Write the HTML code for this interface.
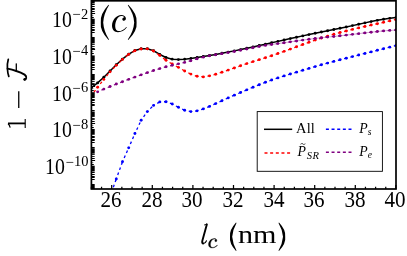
<!DOCTYPE html>
<html><head><meta charset="utf-8"><title>chart</title><style>
html,body{margin:0;padding:0;background:#fff}
#c{will-change:transform;position:relative;width:407px;height:256px;overflow:hidden;background:#fff;font-family:"Liberation Serif",serif;color:#000}
.t{position:absolute;white-space:nowrap;line-height:1}
.xl{font-size:22.1px;transform:translateX(-50%) scaleX(0.955);top:189.2px}
.yl{font-size:21.3px;transform:translate(-100%,-50%)}
.yl sup{font-size:14.5px;position:relative;top:-8px;vertical-align:baseline;margin-left:1.5px;letter-spacing:0.5px}
sub{vertical-align:baseline;position:relative;font-style:italic}

</style></head><body><div id="c">
<svg width="407" height="256" viewBox="0 0 407 256" style="position:absolute;left:0;top:0">
<rect x="0" y="0" width="407" height="256" fill="#fff"/>
<clipPath id="cp"><rect x="91.4" y="0.8" width="304.6" height="188.2"/></clipPath>
<g clip-path="url(#cp)" fill="none" stroke-linecap="round">
<path d="M91.40,87.55 L97.62,82.90 L103.83,77.18 L110.05,70.95 L116.27,64.77 L122.48,59.10 L128.70,54.18 L134.91,50.54 L141.13,48.73 L147.35,48.70 L153.56,50.75 L159.78,54.47 L166.00,57.51 L172.21,59.16 L178.43,59.60 L184.64,59.27 L190.86,58.47 L197.08,57.48 L203.29,56.47 L209.51,55.48 L215.73,54.43 L221.94,53.30 L228.16,52.11 L234.38,50.87 L240.59,49.58 L246.81,48.26 L253.02,46.90 L259.24,45.53 L265.46,44.15 L271.67,42.75 L277.89,41.36 L284.11,39.97 L290.32,38.59 L296.54,37.23 L302.76,35.89 L308.97,34.59 L315.19,33.32 L321.40,32.06 L327.62,30.81 L333.84,29.56 L340.05,28.28 L346.27,26.97 L352.49,25.62 L358.70,24.25 L364.92,22.89 L371.13,21.58 L377.35,20.36 L383.57,19.26 L389.78,18.33 L396.00,17.60" stroke="#000" stroke-width="1.5" stroke-linejoin="round"/>
<circle cx="91.40" cy="87.55" r="1.45" fill="#000" stroke="none"/>
<circle cx="97.62" cy="82.90" r="1.45" fill="#000" stroke="none"/>
<circle cx="103.83" cy="77.18" r="1.45" fill="#000" stroke="none"/>
<circle cx="110.05" cy="70.95" r="1.45" fill="#000" stroke="none"/>
<circle cx="116.27" cy="64.77" r="1.45" fill="#000" stroke="none"/>
<circle cx="122.48" cy="59.10" r="1.45" fill="#000" stroke="none"/>
<circle cx="128.70" cy="54.18" r="1.45" fill="#000" stroke="none"/>
<circle cx="134.91" cy="50.54" r="1.45" fill="#000" stroke="none"/>
<circle cx="141.13" cy="48.73" r="1.45" fill="#000" stroke="none"/>
<circle cx="147.35" cy="48.70" r="1.45" fill="#000" stroke="none"/>
<circle cx="153.56" cy="50.75" r="1.45" fill="#000" stroke="none"/>
<circle cx="159.78" cy="54.47" r="1.45" fill="#000" stroke="none"/>
<circle cx="166.00" cy="57.51" r="1.45" fill="#000" stroke="none"/>
<circle cx="172.21" cy="59.16" r="1.45" fill="#000" stroke="none"/>
<circle cx="178.43" cy="59.60" r="1.45" fill="#000" stroke="none"/>
<circle cx="184.64" cy="59.27" r="1.45" fill="#000" stroke="none"/>
<circle cx="190.86" cy="58.47" r="1.45" fill="#000" stroke="none"/>
<circle cx="197.08" cy="57.48" r="1.45" fill="#000" stroke="none"/>
<circle cx="203.29" cy="56.47" r="1.45" fill="#000" stroke="none"/>
<circle cx="209.51" cy="55.48" r="1.45" fill="#000" stroke="none"/>
<circle cx="215.73" cy="54.43" r="1.45" fill="#000" stroke="none"/>
<circle cx="221.94" cy="53.30" r="1.45" fill="#000" stroke="none"/>
<circle cx="228.16" cy="52.11" r="1.45" fill="#000" stroke="none"/>
<circle cx="234.38" cy="50.87" r="1.45" fill="#000" stroke="none"/>
<circle cx="240.59" cy="49.58" r="1.45" fill="#000" stroke="none"/>
<circle cx="246.81" cy="48.26" r="1.45" fill="#000" stroke="none"/>
<circle cx="253.02" cy="46.90" r="1.45" fill="#000" stroke="none"/>
<circle cx="259.24" cy="45.53" r="1.45" fill="#000" stroke="none"/>
<circle cx="265.46" cy="44.15" r="1.45" fill="#000" stroke="none"/>
<circle cx="271.67" cy="42.75" r="1.45" fill="#000" stroke="none"/>
<circle cx="277.89" cy="41.36" r="1.45" fill="#000" stroke="none"/>
<circle cx="284.11" cy="39.97" r="1.45" fill="#000" stroke="none"/>
<circle cx="290.32" cy="38.59" r="1.45" fill="#000" stroke="none"/>
<circle cx="296.54" cy="37.23" r="1.45" fill="#000" stroke="none"/>
<circle cx="302.76" cy="35.89" r="1.45" fill="#000" stroke="none"/>
<circle cx="308.97" cy="34.59" r="1.45" fill="#000" stroke="none"/>
<circle cx="315.19" cy="33.32" r="1.45" fill="#000" stroke="none"/>
<circle cx="321.40" cy="32.06" r="1.45" fill="#000" stroke="none"/>
<circle cx="327.62" cy="30.81" r="1.45" fill="#000" stroke="none"/>
<circle cx="333.84" cy="29.56" r="1.45" fill="#000" stroke="none"/>
<circle cx="340.05" cy="28.28" r="1.45" fill="#000" stroke="none"/>
<circle cx="346.27" cy="26.97" r="1.45" fill="#000" stroke="none"/>
<circle cx="352.49" cy="25.62" r="1.45" fill="#000" stroke="none"/>
<circle cx="358.70" cy="24.25" r="1.45" fill="#000" stroke="none"/>
<circle cx="364.92" cy="22.89" r="1.45" fill="#000" stroke="none"/>
<circle cx="371.13" cy="21.58" r="1.45" fill="#000" stroke="none"/>
<circle cx="377.35" cy="20.36" r="1.45" fill="#000" stroke="none"/>
<circle cx="383.57" cy="19.26" r="1.45" fill="#000" stroke="none"/>
<circle cx="389.78" cy="18.33" r="1.45" fill="#000" stroke="none"/>
<circle cx="396.00" cy="17.60" r="1.45" fill="#000" stroke="none"/>
<path d="M91.40,95.50 L92.18,94.46 M93.91,92.14 L95.47,90.05 M97.21,87.73 L97.62,87.18 M97.62,87.18 L98.43,86.17 M100.24,83.90 L101.86,81.87 M103.67,79.60 L103.83,79.40 M103.83,79.40 L104.66,78.40 M106.50,76.16 L108.16,74.15 M110.00,71.91 L110.05,71.86 M110.05,71.86 L110.95,70.92 M112.95,68.82 L114.74,66.94 M116.27,65.34 L117.20,64.44 M119.30,62.43 L121.18,60.63 M122.48,59.39 L123.49,58.57 M125.74,56.74 L127.76,55.10 M128.70,54.34 L129.82,53.69 M132.33,52.23 L134.58,50.93 M134.91,50.74 L136.16,50.38 M138.95,49.57 L141.13,48.94 M141.13,48.94 L142.43,48.93 M145.33,48.90 L147.35,48.87 M147.35,48.87 L148.58,49.29 M151.32,50.23 L153.56,51.00 M153.56,51.00 L154.62,51.75 M156.98,53.43 L159.10,54.94 M159.78,55.42 L160.80,56.22 M163.08,58.01 L165.13,59.62 M166.00,60.30 L167.11,60.96 M169.60,62.45 L171.83,63.79 M172.21,64.01 L173.36,64.63 M175.91,66.00 L178.20,67.24 M178.43,67.36 L179.56,68.01 M182.07,69.46 L184.32,70.75 M184.64,70.94 L185.80,71.53 M188.38,72.85 L190.70,74.04 M190.86,74.12 L192.09,74.55 M194.82,75.52 L197.08,76.32 M197.08,76.32 L198.37,76.44 M201.26,76.70 L203.29,76.89 M203.29,76.89 L204.58,76.68 M207.44,76.21 L209.51,75.87 M209.51,75.87 L210.77,75.54 M213.56,74.78 L215.73,74.19 M215.73,74.19 L216.97,73.80 M219.73,72.93 L221.94,72.23 M221.94,72.23 L223.17,71.81 M225.92,70.88 L228.16,70.12 M228.16,70.12 L229.39,69.69 M232.12,68.72 L234.38,67.93 M234.38,67.93 L235.60,67.50 M238.34,66.53 L240.59,65.73 M240.59,65.73 L241.82,65.31 M244.56,64.37 L246.81,63.60 M246.81,63.60 L248.04,63.20 M250.80,62.30 L253.02,61.58 M253.02,61.58 L254.27,61.20 M257.04,60.34 L259.24,59.65 M259.24,59.65 L260.48,59.26 M263.25,58.40 L265.46,57.71 M265.46,57.71 L266.69,57.31 M269.45,56.41 L271.67,55.69 M271.67,55.69 L272.90,55.27 M275.65,54.33 L277.89,53.56 M277.89,53.56 L279.11,53.13 M281.85,52.16 L284.11,51.36 M284.11,51.36 L285.33,50.91 M288.05,49.92 L290.32,49.10 M290.32,49.10 L291.54,48.65 M294.27,47.65 L296.54,46.81 M296.54,46.81 L297.76,46.37 M300.48,45.37 L302.76,44.54 M302.76,44.54 L303.98,44.10 M306.71,43.11 L308.97,42.29 M308.97,42.29 L310.20,41.86 M312.94,40.90 L315.19,40.12 M315.19,40.12 L316.42,39.70 M319.17,38.79 L321.40,38.04 M321.40,38.04 L322.64,37.66 M325.41,36.79 L327.62,36.10 M327.62,36.10 L328.87,35.74 M331.65,34.92 L333.84,34.28 M333.84,34.28 L335.09,33.93 M337.89,33.16 L340.05,32.56 M340.05,32.56 L341.31,32.23 M344.12,31.50 L346.27,30.94 M346.27,30.94 L347.53,30.62 M350.34,29.92 L352.49,29.39 M352.49,29.39 L353.75,29.09 M356.57,28.41 L358.70,27.90 M358.70,27.90 L359.97,27.61 M362.79,26.96 L364.92,26.47 M364.92,26.47 L366.19,26.18 M369.02,25.54 L371.13,25.06 M371.13,25.06 L372.40,24.78 M375.23,24.15 L377.35,23.68 M377.35,23.68 L378.62,23.40 M381.45,22.77 L383.57,22.30 M383.57,22.30 L384.84,22.02 M387.67,21.39 L389.78,20.91 M389.78,20.91 L391.05,20.62 M393.88,19.98 L396.00,19.50" stroke="#f00" stroke-width="1.3" stroke-linecap="butt" fill="none"/>
<circle cx="91.40" cy="95.50" r="1.45" fill="#f00" stroke="none"/>
<circle cx="97.62" cy="87.18" r="1.45" fill="#f00" stroke="none"/>
<circle cx="103.83" cy="79.40" r="1.45" fill="#f00" stroke="none"/>
<circle cx="110.05" cy="71.86" r="1.45" fill="#f00" stroke="none"/>
<circle cx="116.27" cy="65.34" r="1.45" fill="#f00" stroke="none"/>
<circle cx="122.48" cy="59.39" r="1.45" fill="#f00" stroke="none"/>
<circle cx="128.70" cy="54.34" r="1.45" fill="#f00" stroke="none"/>
<circle cx="134.91" cy="50.74" r="1.45" fill="#f00" stroke="none"/>
<circle cx="141.13" cy="48.94" r="1.45" fill="#f00" stroke="none"/>
<circle cx="147.35" cy="48.87" r="1.45" fill="#f00" stroke="none"/>
<circle cx="153.56" cy="51.00" r="1.45" fill="#f00" stroke="none"/>
<circle cx="159.78" cy="55.42" r="1.45" fill="#f00" stroke="none"/>
<circle cx="166.00" cy="60.30" r="1.45" fill="#f00" stroke="none"/>
<circle cx="172.21" cy="64.01" r="1.45" fill="#f00" stroke="none"/>
<circle cx="178.43" cy="67.36" r="1.45" fill="#f00" stroke="none"/>
<circle cx="184.64" cy="70.94" r="1.45" fill="#f00" stroke="none"/>
<circle cx="190.86" cy="74.12" r="1.45" fill="#f00" stroke="none"/>
<circle cx="197.08" cy="76.32" r="1.45" fill="#f00" stroke="none"/>
<circle cx="203.29" cy="76.89" r="1.45" fill="#f00" stroke="none"/>
<circle cx="209.51" cy="75.87" r="1.45" fill="#f00" stroke="none"/>
<circle cx="215.73" cy="74.19" r="1.45" fill="#f00" stroke="none"/>
<circle cx="221.94" cy="72.23" r="1.45" fill="#f00" stroke="none"/>
<circle cx="228.16" cy="70.12" r="1.45" fill="#f00" stroke="none"/>
<circle cx="234.38" cy="67.93" r="1.45" fill="#f00" stroke="none"/>
<circle cx="240.59" cy="65.73" r="1.45" fill="#f00" stroke="none"/>
<circle cx="246.81" cy="63.60" r="1.45" fill="#f00" stroke="none"/>
<circle cx="253.02" cy="61.58" r="1.45" fill="#f00" stroke="none"/>
<circle cx="259.24" cy="59.65" r="1.45" fill="#f00" stroke="none"/>
<circle cx="265.46" cy="57.71" r="1.45" fill="#f00" stroke="none"/>
<circle cx="271.67" cy="55.69" r="1.45" fill="#f00" stroke="none"/>
<circle cx="277.89" cy="53.56" r="1.45" fill="#f00" stroke="none"/>
<circle cx="284.11" cy="51.36" r="1.45" fill="#f00" stroke="none"/>
<circle cx="290.32" cy="49.10" r="1.45" fill="#f00" stroke="none"/>
<circle cx="296.54" cy="46.81" r="1.45" fill="#f00" stroke="none"/>
<circle cx="302.76" cy="44.54" r="1.45" fill="#f00" stroke="none"/>
<circle cx="308.97" cy="42.29" r="1.45" fill="#f00" stroke="none"/>
<circle cx="315.19" cy="40.12" r="1.45" fill="#f00" stroke="none"/>
<circle cx="321.40" cy="38.04" r="1.45" fill="#f00" stroke="none"/>
<circle cx="327.62" cy="36.10" r="1.45" fill="#f00" stroke="none"/>
<circle cx="333.84" cy="34.28" r="1.45" fill="#f00" stroke="none"/>
<circle cx="340.05" cy="32.56" r="1.45" fill="#f00" stroke="none"/>
<circle cx="346.27" cy="30.94" r="1.45" fill="#f00" stroke="none"/>
<circle cx="352.49" cy="29.39" r="1.45" fill="#f00" stroke="none"/>
<circle cx="358.70" cy="27.90" r="1.45" fill="#f00" stroke="none"/>
<circle cx="364.92" cy="26.47" r="1.45" fill="#f00" stroke="none"/>
<circle cx="371.13" cy="25.06" r="1.45" fill="#f00" stroke="none"/>
<circle cx="377.35" cy="23.68" r="1.45" fill="#f00" stroke="none"/>
<circle cx="383.57" cy="22.30" r="1.45" fill="#f00" stroke="none"/>
<circle cx="389.78" cy="20.91" r="1.45" fill="#f00" stroke="none"/>
<circle cx="396.00" cy="19.50" r="1.45" fill="#f00" stroke="none"/>
<path d="M253.02,47.71 L259.24,46.43 L265.46,45.38 L271.67,44.48 L277.89,43.62 L284.11,42.75 L290.32,41.86 L296.54,40.96 L302.76,40.09 L308.97,39.26 L315.19,38.48 L321.40,37.76 L327.62,37.09 L333.84,36.45 L340.05,35.79 L346.27,35.10 L352.49,34.37 L358.70,33.63 L364.92,32.90 L371.13,32.19 L377.35,31.52 L383.57,30.92 L389.78,30.41 L396.00,30.00" stroke="#800080" stroke-opacity="0.4" stroke-width="0.9" stroke-linecap="butt"/>
<path d="M97.62,91.84 L98.81,91.32 M101.47,90.16 L103.83,89.12 M103.83,89.12 L105.03,88.62 M107.71,87.51 L110.05,86.54 M110.05,86.54 L111.26,86.06 M113.95,84.99 L116.27,84.07 M116.27,84.07 L117.48,83.61 M120.19,82.57 L122.48,81.69 M122.48,81.69 L123.70,81.24 M126.42,80.22 L128.70,79.37 M128.70,79.37 L129.92,78.92 M132.64,77.93 L134.91,77.09 M134.91,77.09 L136.14,76.65 M138.86,75.66 L141.13,74.84 M141.13,74.84 L142.36,74.41 M145.09,73.44 L147.35,72.65 M147.35,72.65 L148.58,72.23 M151.33,71.30 L153.56,70.55 M153.56,70.55 L154.80,70.16 M157.57,69.28 L159.78,68.59 M159.78,68.59 L161.03,68.23 M163.82,67.44 L166.00,66.82 M166.00,66.82 L167.26,66.51 M170.07,65.81 L172.21,65.28 M172.21,65.28 L173.48,64.99 M176.31,64.34 L178.43,63.86 M178.43,63.86 L179.69,63.56 M182.52,62.89 L184.64,62.38 M184.64,62.38 L185.90,62.04 M188.70,61.27 L190.86,60.68 M190.86,60.68 L192.11,60.31 M194.89,59.48 L197.08,58.82 M197.08,58.82 L198.33,58.49 M201.14,57.74 L203.29,57.16 M203.29,57.16 L204.56,56.89 M207.40,56.27 L209.51,55.82 M209.51,55.82 L210.79,55.58 M213.64,55.06 L215.73,54.68 M215.73,54.68 L217.01,54.46 M219.87,53.99 L221.94,53.64 M221.94,53.64 L223.22,53.43 M226.08,52.94 L228.16,52.60 M228.16,52.60 L229.44,52.37 M232.29,51.86 L234.38,51.49 M234.38,51.49 L235.65,51.25 M238.50,50.71 L240.59,50.32 M240.59,50.32 L241.87,50.06 M244.71,49.48 L246.81,49.05 M246.81,49.05 L248.08,48.78 M250.91,48.17 L253.02,47.71 M253.02,47.71 L254.30,47.45 M257.14,46.86 L259.24,46.43 M259.24,46.43 L260.52,46.21 M263.38,45.73 L265.46,45.38 M265.46,45.38 L266.74,45.19 M269.61,44.77 L271.67,44.48 M271.67,44.48 L272.96,44.30 M275.83,43.90 L277.89,43.62 M277.89,43.62 L279.18,43.44 M282.05,43.04 L284.11,42.75 M284.11,42.75 L285.39,42.56 M288.26,42.15 L290.32,41.86 M290.32,41.86 L291.61,41.67 M294.48,41.26 L296.54,40.96 M296.54,40.96 L297.83,40.78 M300.70,40.38 L302.76,40.09 M302.76,40.09 L304.04,39.91 M306.92,39.53 L308.97,39.26 M308.97,39.26 L310.26,39.09 M313.14,38.73 L315.19,38.48 M315.19,38.48 L316.48,38.33 M319.36,37.99 L321.40,37.76 M321.40,37.76 L322.70,37.62 M325.58,37.31 L327.62,37.09 M327.62,37.09 L328.91,36.95 M331.80,36.66 L333.84,36.45 M333.84,36.45 L335.13,36.31 M338.01,36.01 L340.05,35.79 M340.05,35.79 L341.35,35.65 M344.23,35.33 L346.27,35.10 M346.27,35.10 L347.56,34.95 M350.44,34.61 L352.49,34.37 M352.49,34.37 L353.78,34.22 M356.66,33.88 L358.70,33.63 M358.70,33.63 L359.99,33.48 M362.87,33.14 L364.92,32.90 M364.92,32.90 L366.21,32.75 M369.09,32.42 L371.13,32.19 M371.13,32.19 L372.43,32.05 M375.31,31.74 L377.35,31.52 M377.35,31.52 L378.65,31.40 M381.53,31.12 L383.57,30.92 M383.57,30.92 L384.86,30.82 M387.75,30.58 L389.78,30.41 M389.78,30.41 L391.08,30.32 M393.97,30.13 L396.00,30.00" stroke="#800080" stroke-width="1.3" stroke-linecap="butt" fill="none"/>
<circle cx="97.62" cy="91.84" r="1.45" fill="#800080" stroke="none"/>
<circle cx="103.83" cy="89.12" r="1.45" fill="#800080" stroke="none"/>
<circle cx="110.05" cy="86.54" r="1.45" fill="#800080" stroke="none"/>
<circle cx="116.27" cy="84.07" r="1.45" fill="#800080" stroke="none"/>
<circle cx="122.48" cy="81.69" r="1.45" fill="#800080" stroke="none"/>
<circle cx="128.70" cy="79.37" r="1.45" fill="#800080" stroke="none"/>
<circle cx="134.91" cy="77.09" r="1.45" fill="#800080" stroke="none"/>
<circle cx="141.13" cy="74.84" r="1.45" fill="#800080" stroke="none"/>
<circle cx="147.35" cy="72.65" r="1.45" fill="#800080" stroke="none"/>
<circle cx="153.56" cy="70.55" r="1.45" fill="#800080" stroke="none"/>
<circle cx="159.78" cy="68.59" r="1.45" fill="#800080" stroke="none"/>
<circle cx="166.00" cy="66.82" r="1.45" fill="#800080" stroke="none"/>
<circle cx="172.21" cy="65.28" r="1.45" fill="#800080" stroke="none"/>
<circle cx="178.43" cy="63.86" r="1.45" fill="#800080" stroke="none"/>
<circle cx="184.64" cy="62.38" r="1.45" fill="#800080" stroke="none"/>
<circle cx="190.86" cy="60.68" r="1.45" fill="#800080" stroke="none"/>
<circle cx="197.08" cy="58.82" r="1.45" fill="#800080" stroke="none"/>
<circle cx="203.29" cy="57.16" r="1.45" fill="#800080" stroke="none"/>
<circle cx="209.51" cy="55.82" r="1.45" fill="#800080" stroke="none"/>
<circle cx="215.73" cy="54.68" r="1.45" fill="#800080" stroke="none"/>
<circle cx="221.94" cy="53.64" r="1.45" fill="#800080" stroke="none"/>
<circle cx="228.16" cy="52.60" r="1.45" fill="#800080" stroke="none"/>
<circle cx="234.38" cy="51.49" r="1.45" fill="#800080" stroke="none"/>
<circle cx="240.59" cy="50.32" r="1.45" fill="#800080" stroke="none"/>
<circle cx="246.81" cy="49.05" r="1.45" fill="#800080" stroke="none"/>
<circle cx="253.02" cy="47.71" r="1.45" fill="#800080" stroke="none"/>
<circle cx="259.24" cy="46.43" r="1.45" fill="#800080" stroke="none"/>
<circle cx="265.46" cy="45.38" r="1.45" fill="#800080" stroke="none"/>
<circle cx="271.67" cy="44.48" r="1.45" fill="#800080" stroke="none"/>
<circle cx="277.89" cy="43.62" r="1.45" fill="#800080" stroke="none"/>
<circle cx="284.11" cy="42.75" r="1.45" fill="#800080" stroke="none"/>
<circle cx="290.32" cy="41.86" r="1.45" fill="#800080" stroke="none"/>
<circle cx="296.54" cy="40.96" r="1.45" fill="#800080" stroke="none"/>
<circle cx="302.76" cy="40.09" r="1.45" fill="#800080" stroke="none"/>
<circle cx="308.97" cy="39.26" r="1.45" fill="#800080" stroke="none"/>
<circle cx="315.19" cy="38.48" r="1.45" fill="#800080" stroke="none"/>
<circle cx="321.40" cy="37.76" r="1.45" fill="#800080" stroke="none"/>
<circle cx="327.62" cy="37.09" r="1.45" fill="#800080" stroke="none"/>
<circle cx="333.84" cy="36.45" r="1.45" fill="#800080" stroke="none"/>
<circle cx="340.05" cy="35.79" r="1.45" fill="#800080" stroke="none"/>
<circle cx="346.27" cy="35.10" r="1.45" fill="#800080" stroke="none"/>
<circle cx="352.49" cy="34.37" r="1.45" fill="#800080" stroke="none"/>
<circle cx="358.70" cy="33.63" r="1.45" fill="#800080" stroke="none"/>
<circle cx="364.92" cy="32.90" r="1.45" fill="#800080" stroke="none"/>
<circle cx="371.13" cy="32.19" r="1.45" fill="#800080" stroke="none"/>
<circle cx="377.35" cy="31.52" r="1.45" fill="#800080" stroke="none"/>
<circle cx="383.57" cy="30.92" r="1.45" fill="#800080" stroke="none"/>
<circle cx="389.78" cy="30.41" r="1.45" fill="#800080" stroke="none"/>
<circle cx="396.00" cy="30.00" r="1.45" fill="#800080" stroke="none"/>
<path d="M110.05,196.32 L110.49,195.10 M111.47,192.37 L112.34,189.92 M113.32,187.19 L114.20,184.74 M115.18,182.01 L116.05,179.57 M116.27,178.97 L116.71,177.75 M117.69,175.03 L118.58,172.58 M119.57,169.85 L120.45,167.41 M121.44,164.68 L122.32,162.24 M122.48,161.79 L123.01,160.61 M124.19,157.96 L125.25,155.58 M126.43,152.94 L127.49,150.56 M128.68,147.91 L128.70,147.86 M128.70,147.86 L129.22,146.67 M130.37,144.01 L131.41,141.63 M132.57,138.97 L133.60,136.58 M134.76,133.92 L134.91,133.56 M134.91,133.56 L135.46,132.39 M136.69,129.76 L137.79,127.40 M139.02,124.78 L140.12,122.42 M141.13,120.27 L141.89,119.21 M143.58,116.85 L145.09,114.74 M146.78,112.38 L147.35,111.60 M147.35,111.60 L148.27,110.68 M150.32,108.63 L152.16,106.79 M153.56,105.38 L154.70,104.75 M157.23,103.33 L159.50,102.06 M159.78,101.91 L161.08,101.87 M163.98,101.77 L166.00,101.70 M166.00,101.70 L167.22,102.15 M169.94,103.16 L172.21,104.00 M172.21,104.00 L173.36,104.60 M175.93,105.96 L178.23,107.17 M178.43,107.28 L179.60,107.84 M182.22,109.09 L184.56,110.21 M184.64,110.25 L185.91,110.53 M188.75,111.15 L190.86,111.62 M190.86,111.62 L192.15,111.46 M195.03,111.09 L197.08,110.84 M197.08,110.84 L198.32,110.45 M201.09,109.60 L203.29,108.92 M203.29,108.92 L204.50,108.43 M207.19,107.35 L209.51,106.41 M209.51,106.41 L210.69,105.88 M213.33,104.68 L215.70,103.60 M215.73,103.59 L216.91,103.05 M219.53,101.82 L221.89,100.73 M221.94,100.70 L223.13,100.17 M225.77,98.97 L228.14,97.90 M228.16,97.89 L229.35,97.37 M232.00,96.20 L234.38,95.16 M234.38,95.16 L235.57,94.64 M238.23,93.49 L240.59,92.48 M240.59,92.48 L241.79,91.97 M244.46,90.83 L246.81,89.83 M246.81,89.83 L248.01,89.33 M250.68,88.21 L253.02,87.23 M253.02,87.23 L254.23,86.74 M256.91,85.64 L259.24,84.69 M259.24,84.69 L260.45,84.22 M263.15,83.17 L265.46,82.27 M265.46,82.27 L266.68,81.83 M269.40,80.83 L271.67,80.01 M271.67,80.01 L272.90,79.59 M275.65,78.66 L277.89,77.90 M277.89,77.90 L279.13,77.51 M281.89,76.63 L284.11,75.92 M284.11,75.92 L285.35,75.54 M288.12,74.69 L290.32,74.01 M290.32,74.01 L291.57,73.64 M294.34,72.80 L296.54,72.14 M296.54,72.14 L297.78,71.76 M300.56,70.92 L302.76,70.26 M302.76,70.26 L304.00,69.89 M306.78,69.06 L308.97,68.40 M308.97,68.40 L310.22,68.04 M313.00,67.22 L315.19,66.58 M315.19,66.58 L316.44,66.22 M319.23,65.43 L321.40,64.80 M321.40,64.80 L322.66,64.46 M325.45,63.69 L327.62,63.09 M327.62,63.09 L328.88,62.75 M331.68,62.00 L333.84,61.42 M333.84,61.42 L335.09,61.09 M337.90,60.35 L340.05,59.79 M340.05,59.79 L341.31,59.46 M344.12,58.74 L346.27,58.18 M346.27,58.18 L347.53,57.86 M350.34,57.14 L352.49,56.59 M352.49,56.59 L353.75,56.27 M356.56,55.56 L358.70,55.02 M358.70,55.02 L359.96,54.70 M362.77,53.99 L364.92,53.45 M364.92,53.45 L366.18,53.13 M368.99,52.42 L371.13,51.88 M371.13,51.88 L372.39,51.56 M375.21,50.85 L377.35,50.31 M377.35,50.31 L378.61,49.99 M381.42,49.27 L383.57,48.73 M383.57,48.73 L384.83,48.40 M387.63,47.68 L389.78,47.13 M389.78,47.13 L391.04,46.80 M393.85,46.06 L396.00,45.50" stroke="#00f" stroke-width="1.3" stroke-linecap="butt" fill="none"/>
<circle cx="110.05" cy="196.32" r="1.45" fill="#00f" stroke="none"/>
<circle cx="116.27" cy="178.97" r="1.45" fill="#00f" stroke="none"/>
<circle cx="122.48" cy="161.79" r="1.45" fill="#00f" stroke="none"/>
<circle cx="128.70" cy="147.86" r="1.45" fill="#00f" stroke="none"/>
<circle cx="134.91" cy="133.56" r="1.45" fill="#00f" stroke="none"/>
<circle cx="141.13" cy="120.27" r="1.45" fill="#00f" stroke="none"/>
<circle cx="147.35" cy="111.60" r="1.45" fill="#00f" stroke="none"/>
<circle cx="153.56" cy="105.38" r="1.45" fill="#00f" stroke="none"/>
<circle cx="159.78" cy="101.91" r="1.45" fill="#00f" stroke="none"/>
<circle cx="166.00" cy="101.70" r="1.45" fill="#00f" stroke="none"/>
<circle cx="172.21" cy="104.00" r="1.45" fill="#00f" stroke="none"/>
<circle cx="178.43" cy="107.28" r="1.45" fill="#00f" stroke="none"/>
<circle cx="184.64" cy="110.25" r="1.45" fill="#00f" stroke="none"/>
<circle cx="190.86" cy="111.62" r="1.45" fill="#00f" stroke="none"/>
<circle cx="197.08" cy="110.84" r="1.45" fill="#00f" stroke="none"/>
<circle cx="203.29" cy="108.92" r="1.45" fill="#00f" stroke="none"/>
<circle cx="209.51" cy="106.41" r="1.45" fill="#00f" stroke="none"/>
<circle cx="215.73" cy="103.59" r="1.45" fill="#00f" stroke="none"/>
<circle cx="221.94" cy="100.70" r="1.45" fill="#00f" stroke="none"/>
<circle cx="228.16" cy="97.89" r="1.45" fill="#00f" stroke="none"/>
<circle cx="234.38" cy="95.16" r="1.45" fill="#00f" stroke="none"/>
<circle cx="240.59" cy="92.48" r="1.45" fill="#00f" stroke="none"/>
<circle cx="246.81" cy="89.83" r="1.45" fill="#00f" stroke="none"/>
<circle cx="253.02" cy="87.23" r="1.45" fill="#00f" stroke="none"/>
<circle cx="259.24" cy="84.69" r="1.45" fill="#00f" stroke="none"/>
<circle cx="265.46" cy="82.27" r="1.45" fill="#00f" stroke="none"/>
<circle cx="271.67" cy="80.01" r="1.45" fill="#00f" stroke="none"/>
<circle cx="277.89" cy="77.90" r="1.45" fill="#00f" stroke="none"/>
<circle cx="284.11" cy="75.92" r="1.45" fill="#00f" stroke="none"/>
<circle cx="290.32" cy="74.01" r="1.45" fill="#00f" stroke="none"/>
<circle cx="296.54" cy="72.14" r="1.45" fill="#00f" stroke="none"/>
<circle cx="302.76" cy="70.26" r="1.45" fill="#00f" stroke="none"/>
<circle cx="308.97" cy="68.40" r="1.45" fill="#00f" stroke="none"/>
<circle cx="315.19" cy="66.58" r="1.45" fill="#00f" stroke="none"/>
<circle cx="321.40" cy="64.80" r="1.45" fill="#00f" stroke="none"/>
<circle cx="327.62" cy="63.09" r="1.45" fill="#00f" stroke="none"/>
<circle cx="333.84" cy="61.42" r="1.45" fill="#00f" stroke="none"/>
<circle cx="340.05" cy="59.79" r="1.45" fill="#00f" stroke="none"/>
<circle cx="346.27" cy="58.18" r="1.45" fill="#00f" stroke="none"/>
<circle cx="352.49" cy="56.59" r="1.45" fill="#00f" stroke="none"/>
<circle cx="358.70" cy="55.02" r="1.45" fill="#00f" stroke="none"/>
<circle cx="364.92" cy="53.45" r="1.45" fill="#00f" stroke="none"/>
<circle cx="371.13" cy="51.88" r="1.45" fill="#00f" stroke="none"/>
<circle cx="377.35" cy="50.31" r="1.45" fill="#00f" stroke="none"/>
<circle cx="383.57" cy="48.73" r="1.45" fill="#00f" stroke="none"/>
<circle cx="389.78" cy="47.13" r="1.45" fill="#00f" stroke="none"/>
<circle cx="396.00" cy="45.50" r="1.45" fill="#00f" stroke="none"/>
</g>
<rect x="91.4" y="0.8" width="304.6" height="188.2" fill="none" stroke="#000" stroke-width="1.7"/>
<path d="M91.40,189.0 v-2.2 M101.55,189.0 v-2.2 M111.70,189.0 v-3.9 M121.85,189.0 v-2.2 M132.00,189.0 v-2.2 M142.15,189.0 v-2.2 M152.30,189.0 v-3.9 M162.45,189.0 v-2.2 M172.60,189.0 v-2.2 M182.75,189.0 v-2.2 M192.90,189.0 v-3.9 M203.05,189.0 v-2.2 M213.20,189.0 v-2.2 M223.35,189.0 v-2.2 M233.50,189.0 v-3.9 M243.65,189.0 v-2.2 M253.80,189.0 v-2.2 M263.95,189.0 v-2.2 M274.10,189.0 v-3.9 M284.25,189.0 v-2.2 M294.40,189.0 v-2.2 M304.55,189.0 v-2.2 M314.70,189.0 v-3.9 M324.85,189.0 v-2.2 M335.00,189.0 v-2.2 M345.15,189.0 v-2.2 M355.30,189.0 v-3.9 M365.45,189.0 v-2.2 M375.60,189.0 v-2.2 M385.75,189.0 v-2.2 M395.90,189.0 v-3.9" stroke="#000" stroke-width="1.25" fill="none"/>
<path d="M91.4,4.50 h3.3" stroke="#000" stroke-opacity="1" stroke-width="1" fill="none"/>
<path d="M91.4,6.50 h3.3" stroke="#000" stroke-opacity="1" stroke-width="1" fill="none"/>
<path d="M91.4,8.50 h3.3" stroke="#000" stroke-opacity="1" stroke-width="1" fill="none"/>
<path d="M91.4,9.50 h3.3" stroke="#000" stroke-opacity="1" stroke-width="1" fill="none"/>
<path d="M91.4,11.50 h3.3" stroke="#000" stroke-opacity="1" stroke-width="1" fill="none"/>
<path d="M91.4,13.50 h3.7" stroke="#000" stroke-opacity="1" stroke-width="1" fill="none"/>
<path d="M91.4,15.50 h2.0" stroke="#000" stroke-opacity="0.45" stroke-width="1" fill="none"/>
<path d="M91.4,17.50 h2.4" stroke="#000" stroke-opacity="1" stroke-width="1" fill="none"/>
<path d="M91.4,25.50 h3.3" stroke="#000" stroke-opacity="1" stroke-width="1" fill="none"/>
<path d="M91.4,27.50 h3.3" stroke="#000" stroke-opacity="1" stroke-width="1" fill="none"/>
<path d="M91.4,29.50 h3.3" stroke="#000" stroke-opacity="1" stroke-width="1" fill="none"/>
<path d="M91.4,30.50 h3.3" stroke="#000" stroke-opacity="1" stroke-width="1" fill="none"/>
<path d="M91.4,32.50 h3.3" stroke="#000" stroke-opacity="1" stroke-width="1" fill="none"/>
<path d="M91.4,37.50 h3.3" stroke="#000" stroke-opacity="1" stroke-width="1" fill="none"/>
<path d="M91.4,44.50 h3.3" stroke="#000" stroke-opacity="0.85" stroke-width="1" fill="none"/>
<path d="M91.4,46.50 h3.3" stroke="#000" stroke-opacity="0.85" stroke-width="1" fill="none"/>
<path d="M91.4,48.50 h3.3" stroke="#000" stroke-opacity="1" stroke-width="1" fill="none"/>
<path d="M91.4,49.50 h3.7" stroke="#000" stroke-opacity="1" stroke-width="1" fill="none"/>
<path d="M91.4,51.50 h2.0" stroke="#000" stroke-opacity="0.45" stroke-width="1" fill="none"/>
<path d="M91.4,53.50 h2.4" stroke="#000" stroke-opacity="1" stroke-width="1" fill="none"/>
<path d="M91.4,62.50 h3.3" stroke="#000" stroke-opacity="1" stroke-width="1" fill="none"/>
<path d="M91.4,64.50 h3.3" stroke="#000" stroke-opacity="1" stroke-width="1" fill="none"/>
<path d="M91.4,65.50 h3.3" stroke="#000" stroke-opacity="1" stroke-width="1" fill="none"/>
<path d="M91.4,67.50 h3.3" stroke="#000" stroke-opacity="1" stroke-width="1" fill="none"/>
<path d="M91.4,69.50 h3.3" stroke="#000" stroke-opacity="1" stroke-width="1" fill="none"/>
<path d="M91.4,74.50 h3.3" stroke="#000" stroke-opacity="1" stroke-width="1" fill="none"/>
<path d="M91.4,81.50 h3.3" stroke="#000" stroke-opacity="0.85" stroke-width="1" fill="none"/>
<path d="M91.4,83.50 h3.3" stroke="#000" stroke-opacity="0.85" stroke-width="1" fill="none"/>
<path d="M91.4,84.50 h3.3" stroke="#000" stroke-opacity="1" stroke-width="1" fill="none"/>
<path d="M91.4,86.50 h3.7" stroke="#000" stroke-opacity="1" stroke-width="1" fill="none"/>
<path d="M91.4,88.50 h2.0" stroke="#000" stroke-opacity="0.45" stroke-width="1" fill="none"/>
<path d="M91.4,90.50 h2.4" stroke="#000" stroke-opacity="1" stroke-width="1" fill="none"/>
<path d="M91.4,99.50 h3.3" stroke="#000" stroke-opacity="1" stroke-width="1" fill="none"/>
<path d="M91.4,100.50 h3.3" stroke="#000" stroke-opacity="1" stroke-width="1" fill="none"/>
<path d="M91.4,102.50 h3.3" stroke="#000" stroke-opacity="1" stroke-width="1" fill="none"/>
<path d="M91.4,104.50 h3.3" stroke="#000" stroke-opacity="1" stroke-width="1" fill="none"/>
<path d="M91.4,105.50 h3.3" stroke="#000" stroke-opacity="1" stroke-width="1" fill="none"/>
<path d="M91.4,110.50 h3.3" stroke="#000" stroke-opacity="1" stroke-width="1" fill="none"/>
<path d="M91.4,118.50 h3.3" stroke="#000" stroke-opacity="0.85" stroke-width="1" fill="none"/>
<path d="M91.4,119.50 h3.3" stroke="#000" stroke-opacity="0.85" stroke-width="1" fill="none"/>
<path d="M91.4,121.50 h3.3" stroke="#000" stroke-opacity="1" stroke-width="1" fill="none"/>
<path d="M91.4,123.50 h3.7" stroke="#000" stroke-opacity="1" stroke-width="1" fill="none"/>
<path d="M91.4,125.50 h2.0" stroke="#000" stroke-opacity="0.45" stroke-width="1" fill="none"/>
<path d="M91.4,127.50 h2.4" stroke="#000" stroke-opacity="1" stroke-width="1" fill="none"/>
<path d="M91.4,136.50 h3.3" stroke="#000" stroke-opacity="1" stroke-width="1" fill="none"/>
<path d="M91.4,137.50 h3.3" stroke="#000" stroke-opacity="1" stroke-width="1" fill="none"/>
<path d="M91.4,139.50 h3.3" stroke="#000" stroke-opacity="1" stroke-width="1" fill="none"/>
<path d="M91.4,140.50 h3.3" stroke="#000" stroke-opacity="1" stroke-width="1" fill="none"/>
<path d="M91.4,142.50 h3.3" stroke="#000" stroke-opacity="1" stroke-width="1" fill="none"/>
<path d="M91.4,147.50 h3.3" stroke="#000" stroke-opacity="1" stroke-width="1" fill="none"/>
<path d="M91.4,154.50 h3.3" stroke="#000" stroke-opacity="0.85" stroke-width="1" fill="none"/>
<path d="M91.4,156.50 h3.3" stroke="#000" stroke-opacity="0.85" stroke-width="1" fill="none"/>
<path d="M91.4,158.50 h3.3" stroke="#000" stroke-opacity="1" stroke-width="1" fill="none"/>
<path d="M91.4,160.50 h3.7" stroke="#000" stroke-opacity="1" stroke-width="1" fill="none"/>
<path d="M91.4,162.50 h2.0" stroke="#000" stroke-opacity="0.45" stroke-width="1" fill="none"/>
<path d="M91.4,164.50 h2.4" stroke="#000" stroke-opacity="1" stroke-width="1" fill="none"/>
<path d="M91.4,172.50 h3.3" stroke="#000" stroke-opacity="1" stroke-width="1" fill="none"/>
<path d="M91.4,174.50 h3.3" stroke="#000" stroke-opacity="1" stroke-width="1" fill="none"/>
<path d="M91.4,176.50 h3.3" stroke="#000" stroke-opacity="1" stroke-width="1" fill="none"/>
<path d="M91.4,177.50 h3.3" stroke="#000" stroke-opacity="1" stroke-width="1" fill="none"/>
<path d="M91.4,179.50 h3.3" stroke="#000" stroke-opacity="1" stroke-width="1" fill="none"/>
<path d="M91.4,184.50 h3.3" stroke="#000" stroke-opacity="1" stroke-width="1" fill="none"/>
<rect x="91.4" y="0.80" width="3.3" height="2.70" fill="#000"/>
<rect x="91.4" y="18.70" width="3.3" height="5.80" fill="#000"/>
<rect x="91.4" y="38.00" width="3.3" height="5.40" fill="#000"/>
<rect x="91.4" y="55.45" width="3.3" height="5.80" fill="#000"/>
<rect x="91.4" y="74.75" width="3.3" height="5.40" fill="#000"/>
<rect x="91.4" y="92.20" width="3.3" height="5.80" fill="#000"/>
<rect x="91.4" y="111.50" width="3.3" height="5.40" fill="#000"/>
<rect x="91.4" y="128.95" width="3.3" height="5.80" fill="#000"/>
<rect x="91.4" y="148.25" width="3.3" height="5.40" fill="#000"/>
<rect x="91.4" y="165.70" width="3.3" height="5.80" fill="#000"/>
<rect x="91.4" y="185.00" width="3.3" height="4.00" fill="#000"/>
<rect x="257.2" y="111.6" width="125.2" height="59.7" fill="#fff" stroke="#000" stroke-width="0.9"/>
<path d="M264,129.3 h28.2" stroke="#000" stroke-width="1.5"/>
<path d="M325.9,129.3 h25.7" stroke="#00f" stroke-width="1.6" stroke-dasharray="3.0 2.65"/>
<path d="M264.5,153.0 h25.7" stroke="#f00" stroke-width="1.6" stroke-dasharray="3.0 2.65"/>
<path d="M325.9,152.3 h25.7" stroke="#800080" stroke-width="1.6" stroke-dasharray="3.0 2.65"/>
</svg>
<div class="t xl" style="left:111.1px">26</div>
<div class="t xl" style="left:151.7px">28</div>
<div class="t xl" style="left:192.3px">30</div>
<div class="t xl" style="left:232.9px">32</div>
<div class="t xl" style="left:273.5px">34</div>
<div class="t xl" style="left:314.1px">36</div>
<div class="t xl" style="left:354.7px">38</div>
<div class="t xl" style="left:395.3px">40</div>
<div class="t" style="left:51.8px;top:8.0px;font-size:23.3px;transform-origin:0 0;transform:scaleX(0.85)">10</div>
<div class="t" style="left:72.3px;top:7.4px;font-size:14.8px;transform-origin:0 0;transform:scaleX(1.0)">−</div>
<div class="t" style="left:80.7px;top:5.6px;font-size:15.6px;transform-origin:0 0;transform:scaleX(0.93)">2</div>
<div class="t" style="left:51.8px;top:44.8px;font-size:23.3px;transform-origin:0 0;transform:scaleX(0.85)">10</div>
<div class="t" style="left:72.3px;top:44.2px;font-size:14.8px;transform-origin:0 0;transform:scaleX(1.0)">−</div>
<div class="t" style="left:80.7px;top:42.4px;font-size:15.6px;transform-origin:0 0;transform:scaleX(0.93)">4</div>
<div class="t" style="left:51.8px;top:81.6px;font-size:23.3px;transform-origin:0 0;transform:scaleX(0.85)">10</div>
<div class="t" style="left:72.3px;top:81.0px;font-size:14.8px;transform-origin:0 0;transform:scaleX(1.0)">−</div>
<div class="t" style="left:80.7px;top:79.2px;font-size:15.6px;transform-origin:0 0;transform:scaleX(0.93)">6</div>
<div class="t" style="left:51.8px;top:118.4px;font-size:23.3px;transform-origin:0 0;transform:scaleX(0.85)">10</div>
<div class="t" style="left:72.3px;top:117.8px;font-size:14.8px;transform-origin:0 0;transform:scaleX(1.0)">−</div>
<div class="t" style="left:80.7px;top:116.0px;font-size:15.6px;transform-origin:0 0;transform:scaleX(0.93)">8</div>
<div class="t" style="left:44.9px;top:155.2px;font-size:23.3px;transform-origin:0 0;transform:scaleX(0.85)">10</div>
<div class="t" style="left:65.4px;top:154.6px;font-size:14.8px;transform-origin:0 0;transform:scaleX(1.0)">−</div>
<div class="t" style="left:73.8px;top:152.8px;font-size:15.6px;transform-origin:0 0;transform:scaleX(0.93)">10</div>
<svg width="407" height="256" viewBox="0 0 407 256" style="position:absolute;left:0;top:0">
<path d="M108.5,4.8 Q99.8,14.304000000000002 100.8,22.4 Q99.8,30.496 108.5,40 L109.0,39.5 Q103.8,31.2 103.2,22.4 Q103.8,13.600000000000001 109.0,5.3 Z" fill="#000"/>
<path d="M128.3,4.8 Q137.6,14.304000000000002 136.6,22.4 Q137.6,30.496 128.3,40 L127.80000000000001,39.5 Q133.6,31.2 134.2,22.4 Q133.6,13.600000000000001 127.80000000000001,5.3 Z" fill="#000"/>
<path d="M236.0,222.4 Q229.0,230.122 230.0,236.7 Q229.0,243.278 236.0,251.0 L236.5,250.5 Q232.79999999999998,243.85 232.2,236.7 Q232.79999999999998,229.55 236.5,222.9 Z" fill="#000"/>
<path d="M279.0,222.4 Q286.2,230.122 285.2,236.7 Q286.2,243.278 279.0,251.0 L278.5,250.5 Q282.4,243.85 283.0,236.7 Q282.4,229.55 278.5,222.9 Z" fill="#000"/>
<path d="M126.9,27.3 C124.5,30.6 121.2,32.2 118.0,32.2 C114.4,32.2 112.0,29.6 112.0,25.8 C112.0,20.2 116.2,15.0 121.4,15.0 C123.6,15.0 125.9,16.2 125.9,18.6 C125.9,19.9 125.1,20.8 123.9,20.8 C122.9,20.8 122.3,20.1 122.3,19.3 C122.3,18.2 123.2,17.4 124.3,17.3 C123.8,16.6 122.6,16.1 121.3,16.1 C117.6,16.1 115.2,22.0 115.2,26.2 C115.2,29.2 116.6,31.1 118.6,31.1 C121.4,31.1 124.2,29.6 126.3,26.9 Z" fill="#000"/>
<path d="M126.9,27.3 C124.5,30.6 121.2,32.2 118.0,32.2 C114.4,32.2 112.0,29.6 112.0,25.8 C112.0,20.2 116.2,15.0 121.4,15.0 C123.6,15.0 125.9,16.2 125.9,18.6 C125.9,19.9 125.1,20.8 123.9,20.8 C122.9,20.8 122.3,20.1 122.3,19.3 C122.3,18.2 123.2,17.4 124.3,17.3 C123.8,16.6 122.6,16.1 121.3,16.1 C117.6,16.1 115.2,22.0 115.2,26.2 C115.2,29.2 116.6,31.1 118.6,31.1 C121.4,31.1 124.2,29.6 126.3,26.9 Z" fill="#000" stroke="#000" stroke-width="0.5" transform="translate(140.85,230.22) scale(0.604,0.552)"/>
<g fill="none" stroke="#000" stroke-linecap="round" stroke-linejoin="round">
<path d="M204.5,224.9 L206.6,224.3" stroke-width="0.9"/>
<path d="M206.9,224.3 L202.4,240.4 Q201.7,243.0 203.2,243.5" stroke-width="1.9"/>
<path d="M203.0,243.5 Q205.2,243.9 206.5,240.8" stroke-width="1.1"/>
</g>
<path d="M18.75,91.2 V108" stroke="#000" stroke-width="1.3" fill="none"/>
<g fill="none" stroke="#000" stroke-linecap="round" stroke-linejoin="round">
<path d="M8.3,59.3 Q7.0,64 7.4,68.5 Q7.6,73 8.8,76.4" stroke-width="1.7"/>
<path d="M7.6,68.6 Q12,69.6 16.25,71 Q21,72.4 24.6,74.6 Q26.6,76 26.2,78 Q25.8,79.6 24.6,79.8" stroke-width="1.9"/>
<circle cx="24.7" cy="79.3" r="1.3" fill="#000" stroke="none"/>
<path d="M8,123.4 H25.3" stroke-width="1.8" stroke-linecap="butt"/>
<path d="M25.2,119 V128" stroke-width="1.1" stroke-linecap="butt"/>
<path d="M7.9,123.6 Q9.4,124.2 10.2,127.6" stroke-width="1.2" stroke-linecap="butt"/>
<path d="M16.3,63.8 V71.2" stroke-width="1.3"/>
</g>
</svg>
<div class="t" style="left:237.7px;top:223.3px;font-size:24.6px;transform-origin:0 0;transform:scaleX(1.225)">nm</div>
<div class="t" style="left:296.1px;top:121.0px;font-size:14.5px;letter-spacing:0.1px">All</div>
<div class="t" style="left:359.2px;top:121.7px;font-size:13.8px;"><i>P</i><sub style="font-size:9.5px;top:2px">s</sub></div>
<div class="t" style="left:297.6px;top:145.3px;font-size:13.8px;"><i style="margin-right:0.8px">P</i><sub style="font-size:10.6px;top:2.6px;letter-spacing:0.3px">SR</sub></div>
<div class="t" style="left:300.3px;top:138.9px;font-size:10px;">~</div>
<div class="t" style="left:359.2px;top:144.6px;font-size:13.8px;"><i>P</i><sub style="font-size:9.5px;top:2px">e</sub></div>
</div></body></html>
